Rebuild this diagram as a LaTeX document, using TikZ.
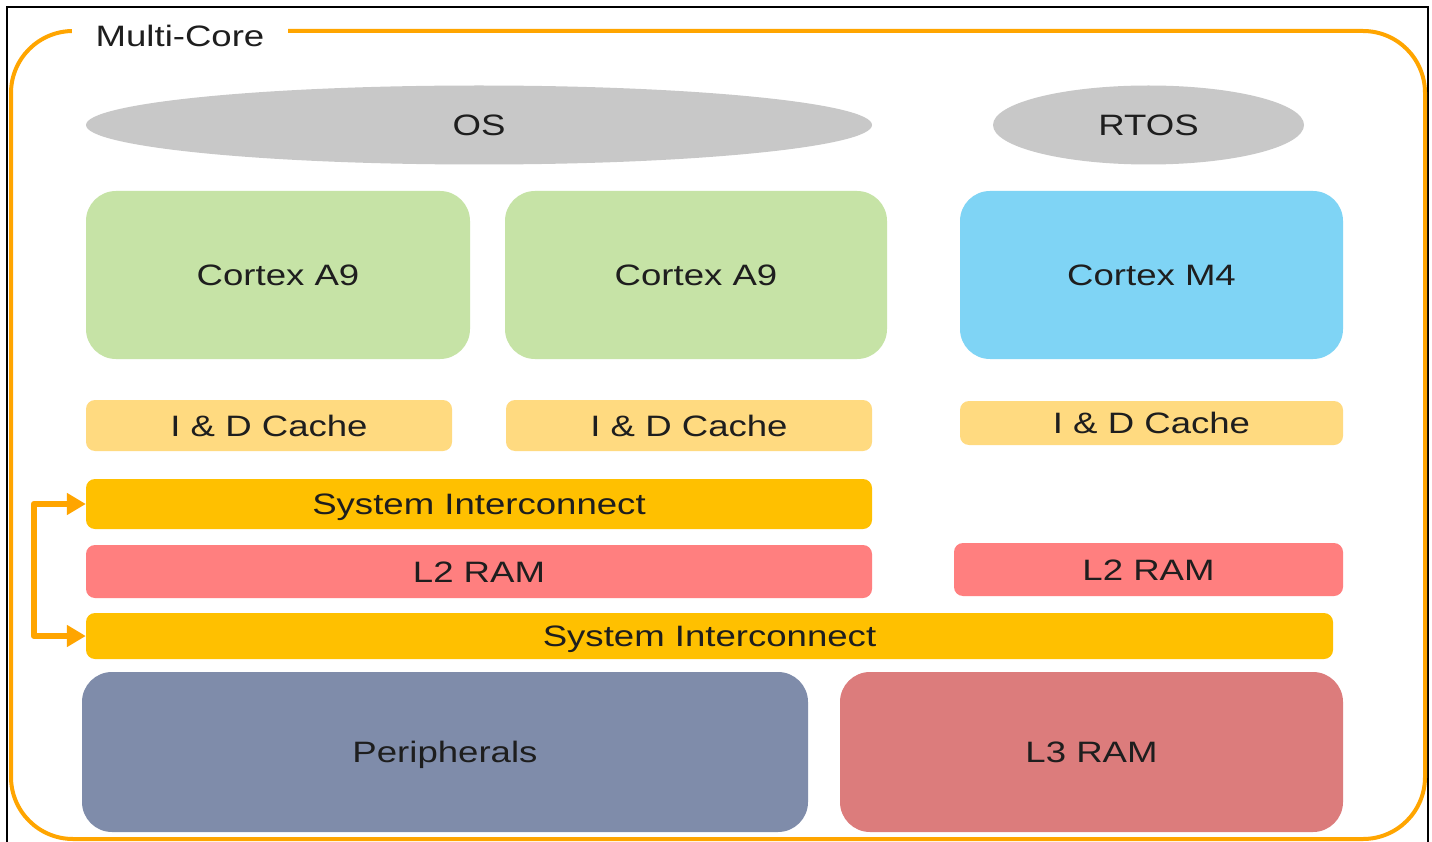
\documentclass[tikz,border=0pt]{standalone}
\usepackage{fontspec}
\setmainfont[FakeStretch=1.24]{Liberation Sans}
\usetikzlibrary{arrows.meta,shapes.geometric}
\definecolor{frameorange}{HTML}{FFA500}
\definecolor{osgray}{HTML}{C8C8C8}
\definecolor{coregreen}{HTML}{C6E3A6}
\definecolor{coreblue}{HTML}{7FD4F5}
\definecolor{cacheyellow}{HTML}{FFDA80}
\definecolor{sysorange}{HTML}{FFC000}
\definecolor{ramred}{HTML}{FF7F7F}
\definecolor{periblue}{HTML}{7F8CAA}
\definecolor{lthree}{HTML}{DC7C7C}
\definecolor{txt}{HTML}{1E1E1E}
\begin{document}
\begin{tikzpicture}[x=1pt,y=-1pt,
  lbl/.style={font=\fontsize{29.5}{34}\selectfont, text=txt, text height=21pt, text depth=0pt},
  box/.style={lbl, draw=none, rectangle, inner sep=0pt},
  bigbox/.style={box, rounded corners=30pt},
  bar/.style={box, rounded corners=9pt},
  oval/.style={lbl, ellipse, fill=osgray, inner sep=0pt},
  link/.style={draw=frameorange, line width=6pt, line join=round, {Triangle[length=19pt,width=21pt]}-{Triangle[length=19pt,width=21pt]}}
]
\useasboundingbox (0,0) rectangle (1432,842);
\fill[white] (0,0) rectangle (1432,842);
% black frame
\draw[black, line width=2pt] (7,842) -- (7,7) -- (1428,7) -- (1428,842);
% orange rounded frame
\draw[frameorange, line width=4pt, rounded corners=62pt] (11,31) rectangle (1425,839);
% title
\node[box, fill=white, minimum width=216pt, minimum height=40pt] (title) at (180,36) {Multi-Core};
% OS layer
\node[oval, minimum width=786pt, minimum height=79pt] (os) at (479,125) {OS};
\node[oval, minimum width=311pt, minimum height=79pt] (rtos) at (1148.5,125) {RTOS};
% cores
\node[bigbox, fill=coregreen, minimum width=384pt, minimum height=168pt] (a9a) at (278,275) {Cortex A9};
\node[bigbox, fill=coregreen, minimum width=382pt, minimum height=168pt] (a9b) at (696,275) {Cortex A9};
\node[bigbox, fill=coreblue, minimum width=383pt, minimum height=168pt] (m4) at (1151.5,275) {Cortex M4};
% caches
\node[bar, fill=cacheyellow, minimum width=366pt, minimum height=51pt] (c1) at (269,425.5) {I \& D Cache};
\node[bar, fill=cacheyellow, minimum width=366pt, minimum height=51pt] (c2) at (689,425.5) {I \& D Cache};
\node[bar, fill=cacheyellow, minimum width=383pt, minimum height=44pt] (c3) at (1151.5,423) {I \& D Cache};
% system interconnect 1
\node[bar, fill=sysorange, minimum width=786pt, minimum height=50pt] (si1) at (479,504) {System Interconnect};
% L2 RAMs
\node[bar, fill=ramred, minimum width=786pt, minimum height=53pt] (l2a) at (479,571.5) {L2 RAM};
\node[bar, fill=ramred, minimum width=389pt, minimum height=53pt] (l2b) at (1148.5,569.5) {L2 RAM};
% system interconnect 2
\node[bar, fill=sysorange, minimum width=1247pt, minimum height=46pt] (si2) at (709.5,636) {System Interconnect};
% bottom blocks
\node[bigbox, fill=periblue, minimum width=726pt, minimum height=160pt] (peri) at (445,752) {Peripherals};
\node[bigbox, fill=lthree, minimum width=503pt, minimum height=160pt] (l3) at (1091.5,752) {L3 RAM};
% arrow linking the two interconnects
\draw[link] (si1.west) -- ++(-52,0) |- (si2.west);
\end{tikzpicture}
\end{document}
